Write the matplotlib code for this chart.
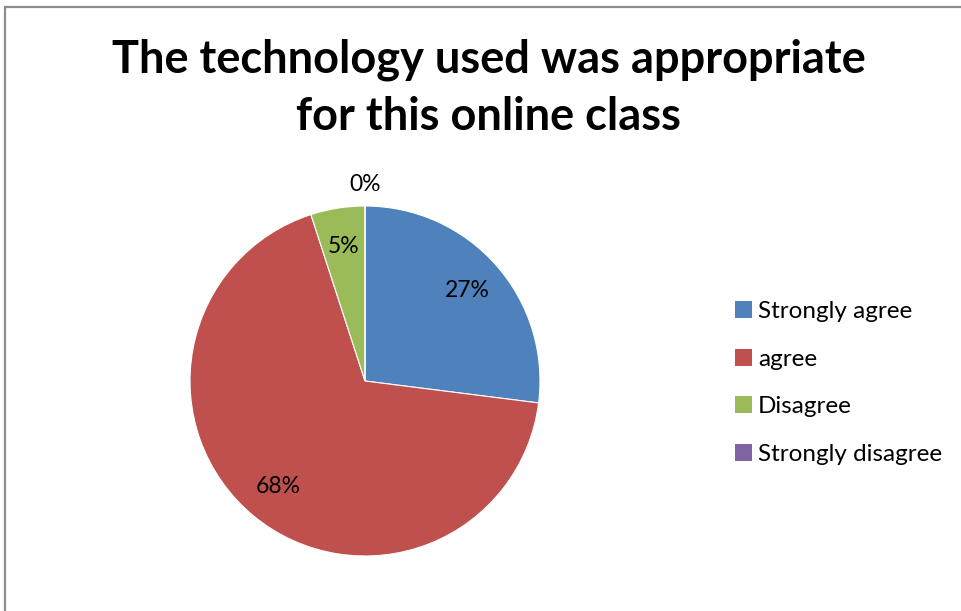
import matplotlib
matplotlib.use("Agg")
import matplotlib.pyplot as plt
from matplotlib.patches import Rectangle, Patch
import numpy as np

categories = ["Strongly agree", "agree", "Disagree", "Strongly disagree"]
values = [27, 68, 5, 0]
colors = ["#4F81BD", "#C0504D", "#9BBB59", "#8064A2"]
title = "The technology used was appropriate\nfor this online class"

plt.rcParams['font.family'] = ['Lato', 'DejaVu Sans']

W, H = 961, 611
fig = plt.figure(figsize=(W / 100, H / 100), dpi=100)
fig.patch.set_facecolor("white")

# outer frame
fig.patches.append(Rectangle((5 / W, -0.05), 1.2, 1 - 7 / H + 0.05, transform=fig.transFigure,
                             fill=False, edgecolor="#8c8c8c", linewidth=1.6))

cx, cy, r = 365, 381, 175
ax = fig.add_axes([(cx - r) / W, (H - cy - r) / H, 2 * r / W, 2 * r / H])
wedges, texts, autotexts = ax.pie(values, colors=colors, startangle=90, counterclock=False,
                                  autopct='%1.0f%%', pctdistance=0.78,
                                  wedgeprops=dict(edgecolor="white", linewidth=0.8),
                                  textprops=dict(fontsize=16.5, color="black"))
ax.set_xlim(-1, 1)
ax.set_ylim(-1, 1)
ax.set_aspect("equal")
# move the zero label outside
w = wedges[3]
ang = np.deg2rad((w.theta1 + w.theta2) / 2)
autotexts[3].set_position((1.12 * np.cos(ang), 1.12 * np.sin(ang)))
ax.axis("off")

fig.text(489 / W, 1 - 88 / H, title, ha="center", va="center", fontsize=32.5,
         fontweight="bold", linespacing=1.45)

handles = [Patch(facecolor=c, edgecolor="none") for c in colors]
fig.legend(handles, categories, loc="upper left", bbox_to_anchor=(713 / W, 1 - 279 / H),
           frameon=False, fontsize=17.5, handlelength=0.7, handleheight=0.7,
           handletextpad=0.25, labelspacing=1.1)

fig.savefig("out.png", dpi=100, facecolor="white")
